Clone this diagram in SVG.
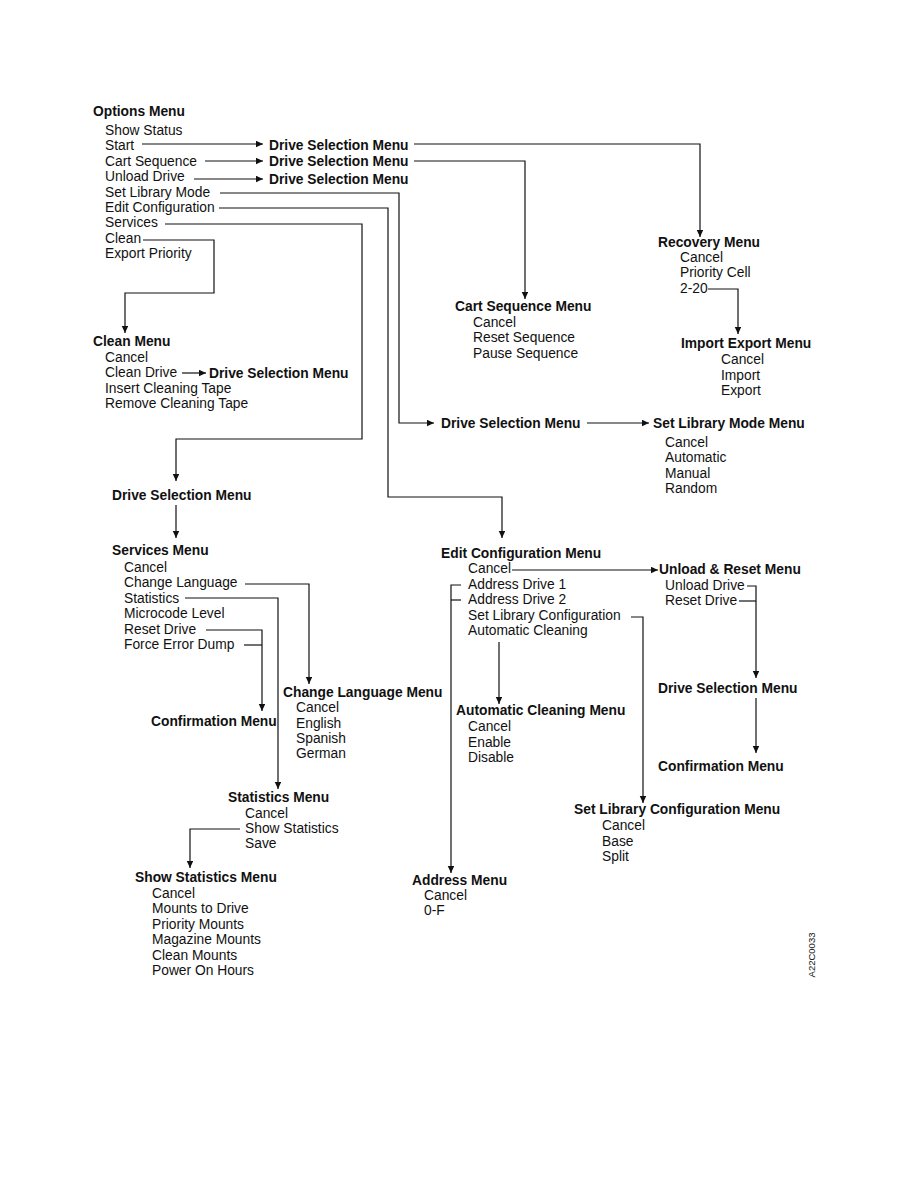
<svg xmlns="http://www.w3.org/2000/svg" width="918" height="1188" viewBox="0 0 918 1188">
<style>
text{font-family:"Liberation Sans",Arial,sans-serif;font-size:13.8px;fill:#111}
.h{font-weight:bold}
.c{fill:none;stroke:#111;stroke-width:1.2}
.a{marker-end:url(#ar)}
</style>
<defs>
<marker id="ar" markerUnits="userSpaceOnUse" markerWidth="8" markerHeight="7" refX="7" refY="3.25" orient="auto">
<path d="M0,0 L7,3.25 L0,6.5 z" fill="#111"/>
</marker>
</defs>
<rect width="918" height="1188" fill="#fff"/>
<g id="connectors">
<path class="c a" d="M142,144 H263"/>
<path class="c a" d="M414,144 H700 V237"/>
<path class="c a" d="M205,161 H263"/>
<path class="c a" d="M414,161 H525 V299"/>
<path class="c a" d="M194,179 H263"/>
<path class="c a" d="M220,193 H399 V423 H434"/>
<path class="c a" d="M587,423 H649"/>
<path class="c a" d="M219,208 H388 V497 H502 V538"/>
<path class="c a" d="M165,224 H362 V439 H176 V481"/>
<path class="c a" d="M176,505 V538"/>
<path class="c a" d="M143,240 H214 V293 H125 V333"/>
<path class="c a" d="M182,373 H206"/>
<path class="c a" d="M708,289 H738 V334"/>
<path class="c a" d="M512,570 H658"/>
<path class="c a" d="M747,586 H756 V678"/>
<path class="c" d="M739,601 H756"/>
<path class="c a" d="M756,698 V753"/>
<path class="c a" d="M461,585 H451 V873"/>
<path class="c" d="M461,600 H451"/>
<path class="c a" d="M631,617 H643 V803"/>
<path class="c a" d="M499,642 V704"/>
<path class="c a" d="M245,584 H309 V684"/>
<path class="c a" d="M185,598 H278 V789"/>
<path class="c a" d="M206,630 H262 V711"/>
<path class="c" d="M244,645 H262"/>
<path class="c a" d="M240,829 H190 V868"/>
</g>
<g id="options-menu">
<text class="h" x="93" y="116">Options Menu</text>
<text x="105" y="135">Show Status</text>
<text x="105" y="150">Start</text>
<text x="105" y="166">Cart Sequence</text>
<text x="105" y="181">Unload Drive</text>
<text x="105" y="197">Set Library Mode</text>
<text x="105" y="212">Edit Configuration</text>
<text x="105" y="227">Services</text>
<text x="105" y="243">Clean</text>
<text x="105" y="258">Export Priority</text>
</g>
<g id="drive-selection-start"><text class="h" x="269" y="150">Drive Selection Menu</text></g>
<g id="drive-selection-cart"><text class="h" x="269" y="166">Drive Selection Menu</text></g>
<g id="drive-selection-unload"><text class="h" x="269" y="184">Drive Selection Menu</text></g>
<g id="recovery-menu">
<text class="h" x="658" y="247">Recovery Menu</text>
<text x="680" y="262">Cancel</text>
<text x="680" y="277">Priority Cell</text>
<text x="680" y="293">2-20</text>
</g>
<g id="import-export-menu">
<text class="h" x="681" y="348">Import Export Menu</text>
<text x="721" y="364">Cancel</text>
<text x="721" y="380">Import</text>
<text x="721" y="395">Export</text>
</g>
<g id="cart-sequence-menu">
<text class="h" x="455" y="311">Cart Sequence Menu</text>
<text x="473" y="327">Cancel</text>
<text x="473" y="342">Reset Sequence</text>
<text x="473" y="358">Pause Sequence</text>
</g>
<g id="clean-menu">
<text class="h" x="93" y="346">Clean Menu</text>
<text x="105" y="362">Cancel</text>
<text x="105" y="377">Clean Drive</text>
<text x="105" y="393">Insert Cleaning Tape</text>
<text x="105" y="408">Remove Cleaning Tape</text>
</g>
<g id="drive-selection-clean"><text class="h" x="209" y="378">Drive Selection Menu</text></g>
<g id="drive-selection-library-mode"><text class="h" x="441" y="428">Drive Selection Menu</text></g>
<g id="set-library-mode-menu">
<text class="h" x="653" y="428">Set Library Mode Menu</text>
<text x="665" y="447">Cancel</text>
<text x="665" y="462">Automatic</text>
<text x="665" y="478">Manual</text>
<text x="665" y="493">Random</text>
</g>
<g id="drive-selection-services"><text class="h" x="112" y="500">Drive Selection Menu</text></g>
<g id="services-menu">
<text class="h" x="112" y="555">Services Menu</text>
<text x="124" y="572">Cancel</text>
<text x="124" y="587">Change Language</text>
<text x="124" y="603">Statistics</text>
<text x="124" y="618">Microcode Level</text>
<text x="124" y="634">Reset Drive</text>
<text x="124" y="649">Force Error Dump</text>
</g>
<g id="edit-configuration-menu">
<text class="h" x="441" y="558">Edit Configuration Menu</text>
<text x="468" y="573">Cancel</text>
<text x="468" y="589">Address Drive 1</text>
<text x="468" y="604">Address Drive 2</text>
<text x="468" y="620">Set Library Configuration</text>
<text x="468" y="635">Automatic Cleaning</text>
</g>
<g id="unload-reset-menu">
<text class="h" x="659" y="574">Unload &amp; Reset Menu</text>
<text x="665" y="590">Unload Drive</text>
<text x="665" y="605">Reset Drive</text>
</g>
<g id="drive-selection-unload-reset"><text class="h" x="658" y="693">Drive Selection Menu</text></g>
<g id="confirmation-menu-right"><text class="h" x="658" y="771">Confirmation Menu</text></g>
<g id="change-language-menu">
<text class="h" x="283" y="697">Change Language Menu</text>
<text x="296" y="712">Cancel</text>
<text x="296" y="728">English</text>
<text x="296" y="743">Spanish</text>
<text x="296" y="758">German</text>
</g>
<g id="confirmation-menu-left"><text class="h" x="151" y="726">Confirmation Menu</text></g>
<g id="automatic-cleaning-menu">
<text class="h" x="456" y="715">Automatic Cleaning Menu</text>
<text x="468" y="731">Cancel</text>
<text x="468" y="747">Enable</text>
<text x="468" y="762">Disable</text>
</g>
<g id="statistics-menu">
<text class="h" x="228" y="802">Statistics Menu</text>
<text x="245" y="818">Cancel</text>
<text x="245" y="833">Show Statistics</text>
<text x="245" y="848">Save</text>
</g>
<g id="set-library-configuration-menu">
<text class="h" x="574" y="814">Set Library Configuration Menu</text>
<text x="602" y="830">Cancel</text>
<text x="602" y="846">Base</text>
<text x="602" y="861">Split</text>
</g>
<g id="show-statistics-menu">
<text class="h" x="135" y="882">Show Statistics Menu</text>
<text x="152" y="898">Cancel</text>
<text x="152" y="913">Mounts to Drive</text>
<text x="152" y="929">Priority Mounts</text>
<text x="152" y="944">Magazine Mounts</text>
<text x="152" y="960">Clean Mounts</text>
<text x="152" y="975">Power On Hours</text>
</g>
<g id="address-menu">
<text class="h" x="412" y="885">Address Menu</text>
<text x="424" y="900">Cancel</text>
<text x="424" y="915">0-F</text>
</g>
<text x="815" y="955" transform="rotate(-90 815 955)" text-anchor="middle" style="font-size:9.5px">A22C0033</text>
</svg>
